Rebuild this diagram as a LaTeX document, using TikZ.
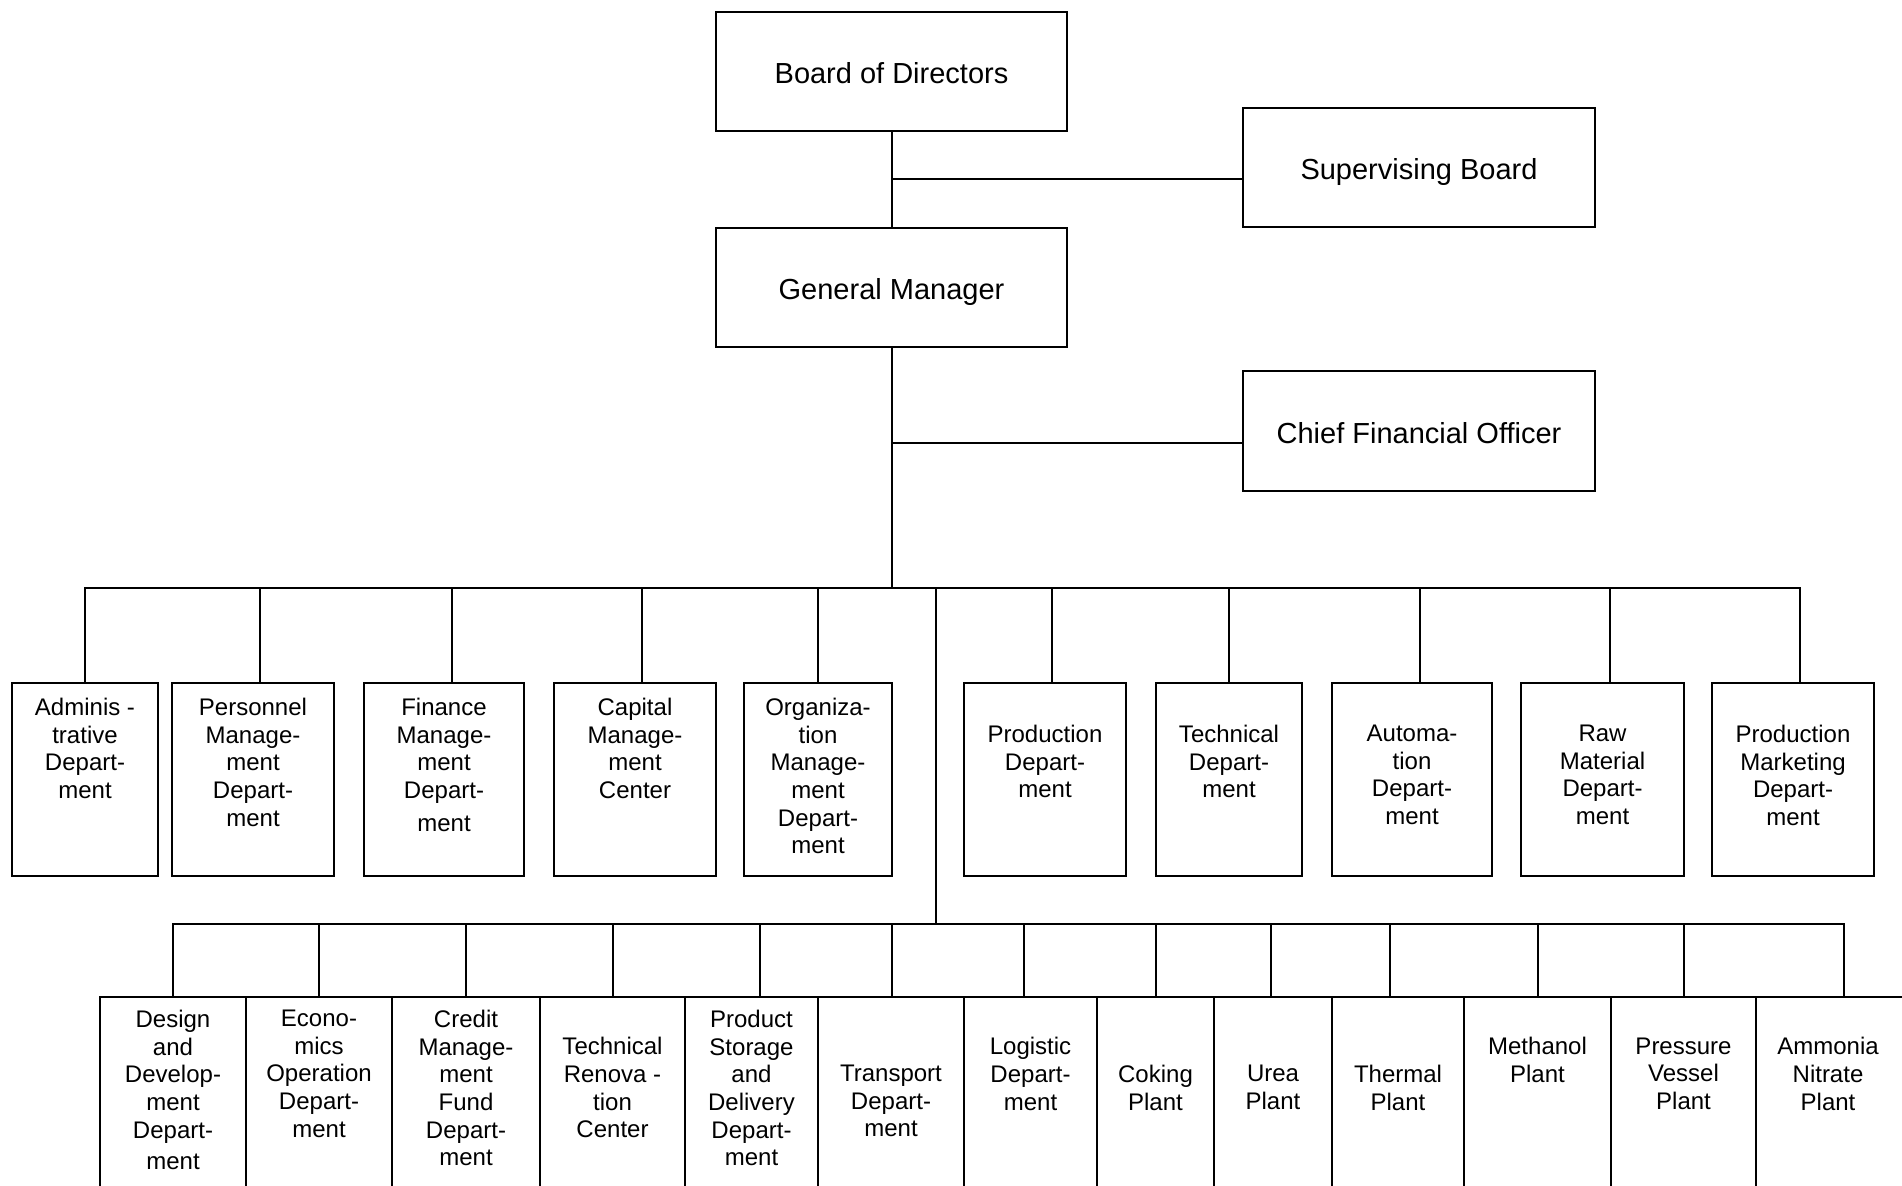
\documentclass[tikz,border=0pt]{standalone}
\usepackage{fontspec}
\setmainfont{Liberation Sans}
\tikzset{
  box/.style={draw, line width=1pt, inner sep=0pt, rectangle},
  big/.style={box, font=\fontsize{14.5}{17}\selectfont, text height=12.4pt, text depth=0pt},
  txt/.style={font=\fontsize{12}{13.85}\selectfont, align=center, inner sep=0pt, anchor=north, execute at begin node=\strut},
  conn/.style={line width=1pt}
}
% name, x1, y1, x2, y2 (pixel coordinates, y downward)
\newcommand\obox[5]{\node[box, minimum width={(#4-#2)*0.5pt}, minimum height={(#5-#3)*0.5pt}] (#1) at ({(#2+#4)/2},{(#3+#5)/2}) {};}
\newcommand\bigbox[6]{\node[big, minimum width={(#4-#2)*0.5pt}, minimum height={(#5-#3)*0.5pt}] (#1) at ({(#2+#4)/2},{(#3+#5)/2}) {#6};}
% stub: node, dx, length up
\newcommand\ostub[3]{\draw[conn] (#1.north) ++(#2,0) -- ++(0,-#3);}
\begin{document}
\begin{tikzpicture}[x=0.5pt,y=-0.5pt]
\useasboundingbox (0,0) rectangle (1902,1186);
\clip (0,0) rectangle (1902,1186);

% top boxes
\bigbox{bod}{716}{12}{1067}{131}{Board of Directors}
\bigbox{sb}{1243}{108}{1595}{227}{Supervising Board}
\bigbox{gm}{716}{228}{1067}{347}{General Manager}
\bigbox{cfo}{1243}{371}{1595}{491}{Chief Financial Officer}

% middle row
\obox{m1}{12}{683}{158}{876}
\obox{m2}{172}{683}{334}{876}
\obox{m3}{364}{683}{524}{876}
\obox{m4}{554}{683}{716}{876}
\obox{m5}{744}{683}{892}{876}
\obox{m6}{964}{683}{1126}{876}
\obox{m7}{1156}{683}{1302}{876}
\obox{m8}{1332}{683}{1492}{876}
\obox{m9}{1521}{683}{1684}{876}
\obox{m10}{1712}{683}{1874}{876}

\node[txt] (m1t) at (85,697.6) {Adminis -\\trative\\Depart-\\ment};
\node[txt] (m2t) at (253,697.6) {Personnel\\Manage-\\ment\\Depart-\\ment};
\node[txt] (m3t) at (444,697.6) {Finance\\Manage-\\ment\\Depart-\\[2.5pt]ment};
\node[txt] (m4t) at (635,697.6) {Capital\\Manage-\\ment\\Center};
\node[txt] (m5t) at (818,697.6) {Organiza-\\tion\\Manage-\\ment\\Depart-\\ment};
\node[txt] (m6t) at (1045,724.6) {Production\\Depart-\\ment};
\node[txt] (m7t) at (1229,724.6) {Technical\\Depart-\\ment};
\node[txt] (m8t) at (1412,724.6) {Automa-\\tion\\Depart-\\ment};
\node[txt] (m9t) at (1602.5,724.6) {Raw\\Material\\Depart-\\ment};
\node[txt] (m10t) at (1793,724.6) {Production\\Marketing\\Depart-\\ment};

% bottom row
\obox{d1}{100}{997}{246}{1210}
\obox{d2}{246}{997}{392}{1210}
\obox{d3}{392}{997}{540}{1210}
\obox{d4}{540}{997}{685}{1210}
\obox{d5}{685}{997}{818}{1210}
\obox{d6}{818}{997}{964}{1210}
\obox{d7}{964}{997}{1097}{1210}
\obox{d8}{1097}{997}{1214}{1210}
\obox{d9}{1214}{997}{1332}{1210}
\obox{d10}{1332}{997}{1464}{1210}
\obox{d11}{1464}{997}{1611}{1210}
\obox{d12}{1611}{997}{1756}{1210}
\obox{d13}{1756}{997}{1904}{1210}

\node[txt] (d1t) at (173,1009.6) {Design\\and\\Develop-\\ment\\Depart-\\[2pt]ment};
\node[txt] (d2t) at (319,1009.6) {Econo-\\mics\\Operation\\Depart-\\ment};
\node[txt] (d3t) at (466,1009.6) {Credit\\Manage-\\ment\\Fund\\Depart-\\ment};
\node[txt] (d4t) at (612.5,1037.1) {Technical\\Renova -\\tion\\Center};
\node[txt] (d5t) at (751.5,1009.6) {Product\\Storage\\and\\Delivery\\Depart-\\ment};
\node[txt] (d6t) at (891,1064.6) {Transport\\Depart-\\ment};
\node[txt] (d7t) at (1030.5,1037.1) {Logistic\\Depart-\\ment};
\node[txt] (d8t) at (1155.5,1064.6) {Coking\\Plant};
\node[txt] (d9t) at (1273,1064.6) {Urea\\Plant};
\node[txt] (d10t) at (1398,1064.6) {Thermal\\Plant};
\node[txt] (d11t) at (1537.5,1037.1) {Methanol\\Plant};
\node[txt] (d12t) at (1683.5,1037.1) {Pressure\\Vessel\\Plant};
\node[txt] (d13t) at (1828,1037.1) {Ammonia\\Nitrate\\Plant};

% bus coordinates
\coordinate (topbusL) at (85,588);
\coordinate (topbusR) at (1800,588);
\coordinate (split) at (936,588);
\coordinate (splitB) at (936,924);
\coordinate (botbusL) at (173,924);
\coordinate (botbusR) at (1844,924);

% connectors
\draw[conn] (bod.south) -- (gm.north);
\draw[conn] (sb.west) ++(0,12) coordinate (sbj) -- (sbj -| bod.south);
\draw[conn] (cfo.west) ++(0,12) coordinate (cfoj) -- (cfoj -| gm.south);
\draw[conn] (gm.south) -- (gm.south |- topbusL);
\draw[conn] (topbusL) -- (topbusR);
\draw[conn] (split) -- (splitB);
\draw[conn] (botbusL) -- (botbusR);

\ostub{m1}{0}{95}
\ostub{m2}{7}{95}
\ostub{m3}{8}{95}
\ostub{m4}{7}{95}
\ostub{m5}{0}{95}
\ostub{m6}{7}{95}
\ostub{m7}{0}{95}
\ostub{m8}{8}{95}
\ostub{m9}{7.5}{95}
\ostub{m10}{7}{95}

\ostub{d1}{0}{73}
\ostub{d2}{0}{73}
\ostub{d3}{0}{73}
\ostub{d4}{0}{73}
\ostub{d5}{8.5}{73}
\ostub{d6}{1}{73}
\ostub{d7}{-6.5}{73}
\ostub{d8}{0}{73}
\ostub{d9}{-2}{73}
\ostub{d10}{-8}{73}
\ostub{d11}{0}{73}
\ostub{d12}{0}{73}
\ostub{d13}{14}{73}
\end{tikzpicture}
\end{document}
